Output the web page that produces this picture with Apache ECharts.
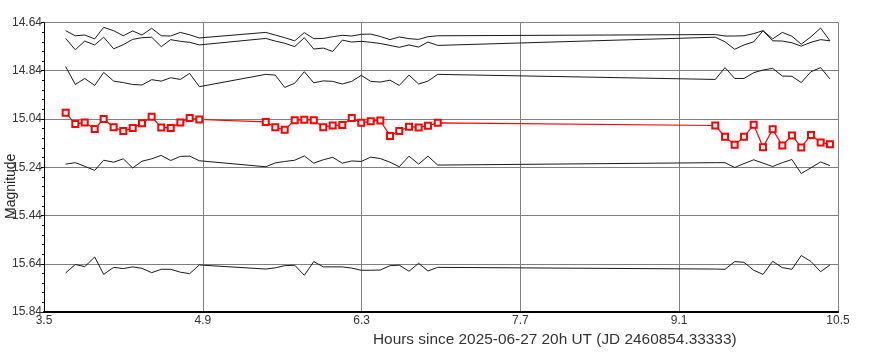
<!DOCTYPE html>
<html>
<head>
<meta charset="utf-8">
<script src="https://cdn.jsdelivr.net/npm/echarts@6/dist/echarts.min.js"></script>
<style>
html,body{margin:0;padding:0;background:#fff;}
#chart{width:869px;height:362px;}
</style>
</head>
<body>
<div id="chart"></div>
<script>
// Observation times (hours since 2025-06-27 20h UT)
var hours = [
  3.691, 3.776, 3.859, 3.947, 4.026, 4.114, 4.199, 4.282, 4.364, 4.449, 4.534, 4.617, 4.702, 4.784, 4.869,
  5.455, 5.539, 5.622, 5.710, 5.795, 5.878, 5.962, 6.045, 6.130, 6.213, 6.297, 6.380, 6.465, 6.550, 6.632, 6.718, 6.803, 6.885, 6.971,
  9.418, 9.504, 9.589, 9.671, 9.757, 9.839, 9.924, 10.009, 10.094, 10.176, 10.262, 10.347, 10.429
];
// Target star (red)
var target = [
  15.014, 15.061, 15.054, 15.081, 15.040, 15.074, 15.090, 15.077, 15.058, 15.031, 15.075, 15.077, 15.054, 15.036, 15.042,
  15.052, 15.074, 15.085, 15.045, 15.043, 15.045, 15.074, 15.067, 15.065, 15.036, 15.056, 15.049, 15.046, 15.110, 15.090, 15.072, 15.075, 15.068, 15.056,
  15.067, 15.114, 15.147, 15.114, 15.064, 15.157, 15.083, 15.150, 15.108, 15.158, 15.106, 15.137, 15.145
];
// Comparison / check stars (black)
var comp1 = [
  14.674, 14.695, 14.692, 14.708, 14.660, 14.674, 14.695, 14.675, 14.692, 14.664, 14.695, 14.696, 14.681, 14.691, 14.704,
  14.681, 14.692, 14.703, 14.716, 14.682, 14.707, 14.706, 14.699, 14.693, 14.696, 14.689, 14.688, 14.698, 14.711, 14.700, 14.707, 14.710, 14.699, 14.695,
  14.690, 14.696, 14.696, 14.695, 14.686, 14.674, 14.716, 14.717, 14.724, 14.738, 14.722, 14.711, 14.716
];
var comp2 = [
  14.706, 14.753, 14.717, 14.733, 14.701, 14.749, 14.732, 14.710, 14.703, 14.701, 14.740, 14.711, 14.718, 14.722, 14.733,
  14.706, 14.717, 14.726, 14.740, 14.703, 14.750, 14.746, 14.760, 14.713, 14.721, 14.718, 14.722, 14.727, 14.735, 14.743, 14.733, 14.742, 14.721, 14.735,
  14.701, 14.720, 14.751, 14.733, 14.720, 14.674, 14.708, 14.681, 14.697, 14.730, 14.699, 14.663, 14.716
];
var comp3 = [
  14.823, 14.897, 14.872, 14.901, 14.847, 14.883, 14.889, 14.897, 14.899, 14.877, 14.883, 14.869, 14.876, 14.851, 14.906,
  14.855, 14.858, 14.909, 14.892, 14.844, 14.890, 14.882, 14.884, 14.895, 14.884, 14.859, 14.884, 14.887, 14.879, 14.901, 14.858, 14.895, 14.883, 14.855,
  14.876, 14.827, 14.872, 14.872, 14.848, 14.837, 14.830, 14.862, 14.863, 14.889, 14.844, 14.827, 14.874
];
var comp4 = [
  15.227, 15.221, 15.236, 15.253, 15.211, 15.219, 15.205, 15.243, 15.215, 15.205, 15.191, 15.212, 15.195, 15.194, 15.213,
  15.238, 15.222, 15.216, 15.211, 15.193, 15.223, 15.209, 15.199, 15.223, 15.214, 15.216, 15.198, 15.204, 15.219, 15.238, 15.194, 15.227, 15.194, 15.231,
  15.221, 15.221, 15.241, 15.225, 15.209, 15.223, 15.237, 15.221, 15.208, 15.266, 15.242, 15.218, 15.233
];
var comp5 = [
  15.678, 15.643, 15.652, 15.612, 15.684, 15.655, 15.660, 15.653, 15.659, 15.677, 15.663, 15.663, 15.675, 15.681, 15.645,
  15.662, 15.657, 15.648, 15.646, 15.688, 15.631, 15.653, 15.653, 15.653, 15.658, 15.667, 15.667, 15.666, 15.648, 15.646, 15.671, 15.638, 15.670, 15.655,
  15.662, 15.663, 15.631, 15.634, 15.667, 15.684, 15.630, 15.656, 15.663, 15.606, 15.631, 15.673, 15.645
];
// Axis settings
var xMin = 3.5, xMax = 10.5, xStep = 1.4;
var yMin = 14.64, yMax = 15.84, yStep = 0.2;
var xTitle = 'Hours since 2025-06-27 20h UT (JD 2460854.33333)';
var yTitle = 'Magnitude';

function pairs(ys) {
  return hours.map(function (h, i) { return [h, ys[i]]; });
}

var FONT = '"Liberation Sans", Arial, sans-serif';
var chart = echarts.init(document.getElementById('chart'), null, {renderer: 'canvas'});

function blackLine(ys) {
  return {
    type: 'line', data: pairs(ys), showSymbol: false, symbol: 'none',
    lineStyle: {color: '#1a1a1a', width: 1}, z: 2, silent: true
  };
}

chart.setOption({
  animation: false,
  backgroundColor: '#fff',
  grid: {left: 44, right: 31, top: 22.5, bottom: 50, containLabel: false},
  xAxis: {
    type: 'value', min: xMin, max: xMax, interval: xStep,
    axisLine: {show: true, onZero: false, lineStyle: {color: '#000', width: 2}},
    axisTick: {show: false},
    axisLabel: {color: '#333', fontFamily: FONT, fontSize: 12, margin: 3,
      formatter: function (v) { return v.toFixed(1); }},
    splitLine: {show: true, lineStyle: {color: '#808080', width: 1}}
  },
  yAxis: {
    type: 'value', inverse: true, min: yMin, max: yMax, interval: yStep,
    axisLine: {show: true, onZero: false, lineStyle: {color: '#000', width: 1}},
    axisTick: {show: true, length: 3, lineStyle: {color: '#000'}},
    minorTick: {show: true, splitNumber: 5, length: 2, lineStyle: {color: '#000'}},
    axisLabel: {color: '#333', fontFamily: FONT, fontSize: 12, margin: 2,
      formatter: function (v) { return v.toFixed(2); }},
    splitLine: {show: true, lineStyle: {color: '#808080', width: 1}}
  },
  graphic: [
    {type: 'text', left: 373, top: 332,
      style: {text: xTitle, fill: '#333', font: '15.4px ' + FONT}},
    {type: 'text', x: 4, y: 219, rotation: Math.PI / 2,
      style: {text: yTitle, fill: '#222', font: '14px ' + FONT}}
  ],
  series: [
    blackLine(comp1), blackLine(comp2), blackLine(comp3), blackLine(comp4), blackLine(comp5),
    {
      type: 'line', data: pairs(target), symbol: 'emptyRect', symbolSize: 6, showSymbol: true,
      lineStyle: {color: '#ff0000', width: 1.2},
      itemStyle: {color: '#ff0000', borderColor: '#ff0000', borderWidth: 1},
      z: 5, silent: true
    }
  ]
});
</script>
</body>
</html>
